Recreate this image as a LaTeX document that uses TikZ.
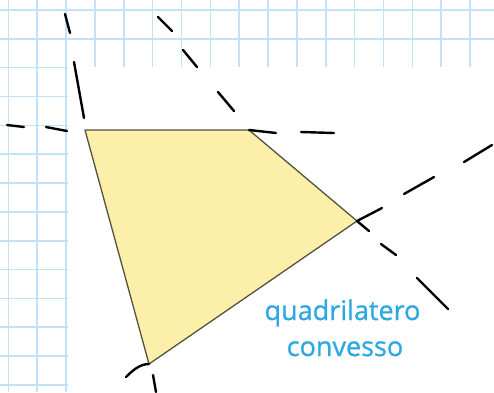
\documentclass[tikz,border=0pt]{standalone}
\usepackage{fontspec}
\setmainfont{Open Sans}
\newfontfamily\labelfont[FakeBold=0.8]{Open Sans}
\definecolor{gridblue}{RGB}{196,226,246}
\definecolor{quadfill}{RGB}{252,239,170}
\definecolor{quadedge}{RGB}{85,82,62}
\definecolor{labelblue}{RGB}{45,168,224}
\tikzset{
  gridline/.style={draw=gridblue, line width=1.6pt},
  extdash/.style={draw=black, line width=2.4pt, line cap=round},
  quadshape/.style={fill=quadfill, draw=quadedge, line width=1.3pt, line join=round},
  labeltext/.style={text=labelblue, font=\labelfont\fontsize{27}{32}\selectfont, inner sep=0pt, anchor=base}
}
\begin{document}
\begin{tikzpicture}[x=1pt,y=-1pt]
\useasboundingbox (0,0) rectangle (494,392);
% grid background
\foreach \i in {0,...,17} {
  \draw[gridline] ({8.3+28.86*\i},0) -- ({8.3+28.86*\i},392);
}
\foreach \j in {0,...,13} {
  \draw[gridline] (0,{10+28.84*\j}) -- (494,{10+28.84*\j});
}
\fill[white] (67.6,67) rectangle (494,392);
% vertices
\coordinate (A) at (85,130);
\coordinate (B) at (249,130);
\coordinate (C) at (357,221);
\coordinate (D) at (149,364);
% quadrilateral
\draw[quadshape] (A) -- (B) -- (C) -- (D) -- cycle;
% extension of side AD
\draw[extdash] (65,14) -- (70,33);
\draw[extdash] (74,62) -- (84,118);
\draw[extdash] (153,375) -- (156,392);
% extension of side AB
\draw[extdash] (7,125) -- (24,127);
\draw[extdash] (46,127) -- (67,131);
\draw[extdash] (B) -- (276,133);
\draw[extdash] (301,132) -- (334,133);
% extension of side BC
\draw[extdash] (158,17) -- (172,31);
\draw[extdash] (183,50) -- (197,67);
\draw[extdash] (218,92) -- (234,111);
\draw[extdash] (C) -- (369,231);
\draw[extdash] (381,244) -- (396,255);
\draw[extdash] (417,278) -- (448,309);
% extension of side DC
\draw[extdash] (C) -- (382,208);
\draw[extdash] (404,194) -- (434,177);
\draw[extdash] (464,162) -- (492,145);
\draw[extdash] (126,377) .. controls (133,370) and (140,364) .. (D);
% label
\node[labeltext] (l1) at (342.5,320) {quadrilatero};
\node[labeltext] (l2) at (345,356) {convesso};
\end{tikzpicture}
\end{document}
